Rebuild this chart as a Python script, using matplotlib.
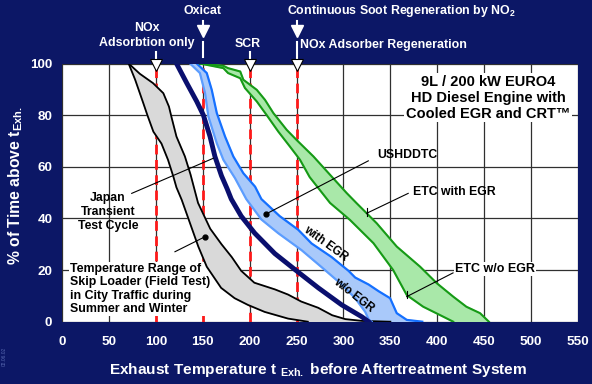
import matplotlib
matplotlib.use('Agg')
import matplotlib.pyplot as plt

plt.rcParams['font.family'] = ['Liberation Sans', 'DejaVu Sans']
plt.rcParams['font.weight'] = 'bold'
plt.rcParams['mathtext.fontset'] = 'custom'
plt.rcParams['mathtext.rm'] = 'Liberation Sans:bold'
plt.rcParams['mathtext.bf'] = 'Liberation Sans:bold'

navy = '#0c1766'

# skip loader field test, temperature range (gray band)
skip_lo_x = [71, 78, 86.7, 91, 97.4, 106, 113, 118.7, 122, 127.6, 136.5, 145.3, 154.3,
             169.6, 184, 198.2, 216, 241, 262]
skip_lo_y = [100, 93.7, 84.6, 80, 73.6, 69, 62.7, 56.2, 52, 47.2, 38.1, 29.1, 21.3,
             13.1, 9.1, 6.5, 3.8, 1.2, 0]
skip_hi_x = [71, 83, 97, 108, 114, 117, 122, 131, 137, 145, 158, 170, 181, 191, 205,
             227, 241, 255, 273, 288, 302, 320, 350]
skip_hi_y = [100, 96, 92.4, 88.5, 83.3, 78.8, 71.7, 64, 57, 46, 36, 30, 25, 19.7, 15.1,
             12.5, 10.5, 7.8, 5.4, 2.5, 1, 0.3, 0]

# japan transient test cycle
japan_x = [122, 133, 143.6, 150.7, 157.8, 163, 170, 176, 180.4, 191, 205.4, 226.8, 250,
           273.2, 298.2, 319.6, 326.8]
japan_y = [100, 92.4, 85.3, 80, 71.7, 64, 56.5, 51.5, 47.5, 40.9, 34.3, 26.4, 19.7,
           13.1, 6.5, 1.9, 0]

# USHDDTC w/o EGR (lower edge) and with EGR (upper edge)
us_lo_x = [136.5, 147, 152.5, 156, 165, 172, 184.4, 196.4, 212.5, 230.4, 255.4, 276.8,
           298.2, 312.5, 323.2, 327, 330]
us_lo_y = [100, 96.3, 88.5, 79.5, 69.1, 62.7, 55.6, 47.5, 39.6, 34.3, 27.7, 21.1,
           14.4, 9.1, 3.8, 0.8, 0]
us_hi_x = [143.6, 154.3, 159.6, 165, 173.8, 182.6, 193.3, 205.8, 212.5, 232, 251.8, 266,
           287.5, 305.4, 312.5, 326.8, 337.5, 349.7, 356.8, 367.5, 384]
us_hi_y = [100, 96.3, 89.8, 80.8, 71.7, 64, 57.5, 52.3, 47.5, 40.9, 35.6, 30.3, 25,
           19.7, 17.1, 14.4, 11.8, 9.1, 3.3, 0.7, 0]

# ETC w/o EGR (lower edge) and with EGR (upper edge)
etc_lo_x = [147, 172, 177, 190, 195, 207.6, 218, 230.6, 243, 253.7, 264, 285.7, 307,
            332, 353, 367.5, 385, 406.6, 417]
etc_lo_y = [100, 98.2, 96.3, 94.3, 90.5, 85.3, 80.1, 73.6, 67.8, 62.7, 56, 46, 39.4,
            30.4, 20, 10.3, 5.8, 1.9, 0]
etc_hi_x = [147, 172, 177, 190, 193.3, 207.6, 216.4, 225.3, 239.5, 250, 268, 285.7,
            303.5, 314, 335.5, 356.8, 381.7, 399.5, 417, 431, 445.6, 455]
etc_hi_y = [100, 99.1, 98.2, 96.9, 93.7, 89.8, 85.9, 80.8, 74.3, 70.4, 64, 56.9, 49.8,
            45.9, 38.1, 29.1, 21.3, 14.9, 9.7, 5.8, 3.3, 0]

xticks = [0, 50, 100, 150, 200, 250, 300, 350, 400, 450, 500, 550]
yticks = [0, 20, 40, 60, 80, 100]
limit_x = [100, 150, 200, 250]

fig = plt.figure(figsize=(5.92, 3.84), dpi=100, facecolor=navy)
W, H = 592.0, 384.0


def ft(px, py, s, **kw):
    kw.setdefault('color', 'white')
    return fig.text(px / W, 1 - py / H, s, **kw)


ax = fig.add_axes([62 / W, 1 - 321.7 / H, 516 / W, 258.2 / H])
ax.set_facecolor('white')
ax.set_xlim(0, 550)
ax.set_ylim(0, 100)
ax.set_xticks(xticks)
ax.set_yticks(yticks)
ax.grid(color='#303030', lw=0.9)
ax.set_axisbelow(True)
ax.tick_params(colors='white', labelsize=9.7, length=0)
ax.tick_params(axis='x', pad=10)
ax.tick_params(axis='y', pad=7)
for s in ax.spines.values():
    s.set_visible(False)

for x in limit_x:
    ax.axvline(x, color='#ff1a1a', lw=2, ls=(0, (3.5, 2)), zorder=1.5)

ax.fill(skip_lo_x + skip_hi_x[::-1], skip_lo_y + skip_hi_y[::-1], color='#d9d9d9', zorder=2)
ax.plot(skip_lo_x, skip_lo_y, color='black', lw=1.3, zorder=2.1)
ax.plot(skip_hi_x, skip_hi_y, color='black', lw=1.3, zorder=2.1)

ax.fill(us_lo_x + us_hi_x[::-1], us_lo_y + us_hi_y[::-1], color='#a9c9fa', zorder=2)
ax.plot(us_lo_x, us_lo_y, color='#5c9dff', lw=1.6, zorder=2.1)
ax.plot(us_hi_x, us_hi_y, color='#1570ff', lw=1.6, zorder=2.1)

ax.fill(etc_lo_x + etc_hi_x[::-1], etc_lo_y + etc_hi_y[::-1], color='#a9e8a9', zorder=2)
ax.plot(etc_lo_x, etc_lo_y, color='#169a16', lw=1.5, zorder=2.1)
ax.plot(etc_hi_x, etc_hi_y, color='#169a16', lw=1.5, zorder=2.1)

ax.plot(japan_x, japan_y, color='#0a0f6e', lw=3.5, zorder=3)

# markers at the top of the plot
for x in [100, 200, 250]:
    ax.plot([x, x], [101.3, 104.6], color='white', lw=1.5, clip_on=False, zorder=6)
    ax.plot(x, 99.6, marker='v', ms=8.5, mfc='white', mec='black', mew=0.8,
            clip_on=False, zorder=6)
for x in [150, 250]:
    ax.plot([x, x], [114.2, 116.4], color='white', lw=1.5, clip_on=False, zorder=6)
    ax.plot(x, 112.6, marker='v', ms=8.5, mfc='white', mec='white', clip_on=False, zorder=6)
ax.plot([150, 150], [102.7, 108.5], color='white', lw=1.5, clip_on=False, zorder=6)
ax.plot([250, 250], [105.4, 108.5], color='white', lw=1.5, clip_on=False, zorder=6)

ft(147, 28, 'NOx', fontsize=8.9, ha='center', va='center')
ft(147, 43, 'Adsorbtion only', fontsize=8.9, ha='center', va='center')
ft(203, 11, 'Oxicat', fontsize=8.9, ha='center', va='center')
ft(248, 44, 'SCR', fontsize=8.9, ha='center', va='center')
ft(287, 11, 'Continuous Soot Regeneration by NO$_{\\mathbf{2}}$', fontsize=8.9,
   ha='left', va='center')
ft(300, 45, 'NOx Adsorber Regeneration', fontsize=8.9, ha='left', va='center')

# axis titles
ft(16, 186, '% of Time above t$_{\\mathbf{Exh.}}$', fontsize=11.3, rotation=90,
   ha='center', va='center')
ft(318, 370, 'Exhaust Temperature t $_{\\mathbf{Exh.}}$ before Aftertreatment System',
   fontsize=11.1, ha='center', va='center')
ft(4, 356, '02.06.02', fontsize=3.5, rotation=90, ha='center', va='center',
   color='#5868b0', fontweight='normal')

box = dict(facecolor='white', edgecolor='none', pad=1)
ax.text(454, 86.7, '9L / 200 kW EURO4\nHD Diesel Engine with\nCooled EGR and CRT\u2122',
        fontsize=10.5, ha='center', va='center', linespacing=1.2, bbox=box, zorder=4)
ax.text(49, 42.6, 'Japan\nTransient\nTest Cycle', fontsize=8.8, ha='center',
        va='center', linespacing=1.2, zorder=4)
ax.text(8.5, 12.7, 'Temperature Range of\nSkip Loader (Field Test)\nin City Traffic during\nSummer and Winter',
        fontsize=8.9, ha='left', va='center', linespacing=1.15, bbox=box, zorder=1.8)
ax.text(335.7, 64.6, 'USHDDTC', fontsize=8.8, ha='left', va='center', zorder=4)
ax.text(374, 50.2, 'ETC with EGR', fontsize=8.8, ha='left', va='center', zorder=4)
ax.text(418.9, 20.4, 'ETC w/o EGR', fontsize=9, ha='left', va='center', bbox=box, zorder=4)
ax.text(281.4, 30.1, 'with EGR', fontsize=8.3, rotation=-36, ha='center', va='center',
        rotation_mode='anchor', zorder=4)
ax.text(311.2, 10.3, 'w/o EGR', fontsize=8.3, rotation=-38, ha='center', va='center',
        rotation_mode='anchor', zorder=4)

# leader lines
ax.plot([74.3, 161.3], [49.7, 63.3], color='black', lw=0.8, zorder=4)
ax.plot([120.4, 152.4], [27.1, 32.9], color='black', lw=0.8, zorder=4)
ax.plot(152.4, 32.9, 'o', color='black', ms=3.5, zorder=4)
ax.plot([326.5, 217.4], [62.3, 41.7], color='black', lw=0.8, zorder=4)
ax.plot(217.4, 41.7, 'o', color='black', ms=3.5, zorder=4)
ax.plot([369, 324.8], [49.7, 42], color='black', lw=0.8, zorder=4)
ax.plot([324.8, 324.8], [41, 44], color='black', lw=0.8, zorder=4)
ax.plot([416.8, 367.4], [18.9, 9.7], color='black', lw=0.8, zorder=4)
ax.plot([367.4, 367.4], [9.2, 12], color='black', lw=0.8, zorder=4)

plt.savefig('out.png', dpi=100, facecolor=navy)
